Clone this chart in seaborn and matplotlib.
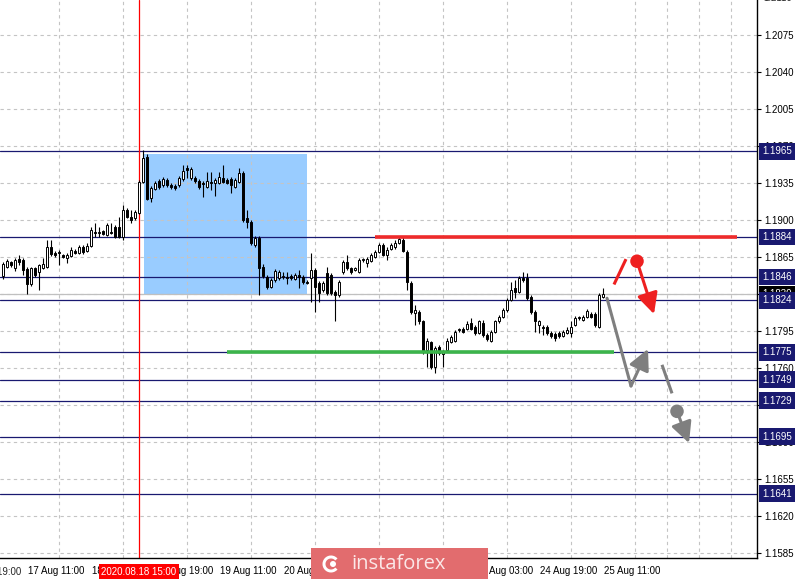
import numpy as np
import seaborn as sns
import matplotlib.pyplot as plt
from matplotlib.patches import Rectangle, Circle, Wedge
from matplotlib.ticker import FixedLocator
from matplotlib.transforms import blended_transform_factory, ScaledTranslation

# EURUSD H1 bars, 17 Aug 05:00 .. 25 Aug 11:00 2020 (bar 6 = 17 Aug 11:00)
bar_open = [
    1.1847, 1.1856, 1.1860, 1.1855, 1.1863, 1.1862, 1.1854, 1.1839, 1.1855, 1.1851,
    1.1855, 1.1856, 1.1874, 1.1869, 1.1870, 1.1867, 1.1864, 1.1866, 1.1871, 1.1869,
    1.1874, 1.1871, 1.1875, 1.1889, 1.1888, 1.1890, 1.1886, 1.1889, 1.1893, 1.1893,
    1.1884, 1.1909, 1.1903, 1.1902, 1.1907, 1.1936, 1.1960, 1.1921, 1.1929, 1.1937,
    1.1933, 1.1938, 1.1933, 1.1932, 1.1933, 1.1939, 1.1949, 1.1940, 1.1940, 1.1937,
    1.1935, 1.1931, 1.1936, 1.1935, 1.1935, 1.1940, 1.1938, 1.1939, 1.1931, 1.1936,
    1.1944, 1.1902, 1.1898, 1.1876, 1.1883, 1.1856, 1.1846, 1.1837, 1.1843, 1.1845,
    1.1846, 1.1846, 1.1847, 1.1844, 1.1848, 1.1846, 1.1841, 1.1845, 1.1853, 1.1840,
    1.1834, 1.1850, 1.1848, 1.1832, 1.1829, 1.1851, 1.1860, 1.1855, 1.1853, 1.1851,
    1.1862, 1.1859, 1.1861, 1.1865, 1.1870, 1.1876, 1.1867, 1.1873, 1.1874, 1.1878,
    1.1881, 1.1870, 1.1840, 1.1812, 1.1813, 1.1804, 1.1777, 1.1785, 1.1761, 1.1780,
    1.1773, 1.1777, 1.1785, 1.1786, 1.1796, 1.1797, 1.1797, 1.1803, 1.1799, 1.1793,
    1.1803, 1.1791, 1.1786, 1.1794, 1.1804, 1.1808, 1.1815, 1.1824, 1.1836, 1.1832,
    1.1845, 1.1845, 1.1827, 1.1813, 1.1801, 1.1799, 1.1799, 1.1793, 1.1792, 1.1793,
    1.1790, 1.1793, 1.1793, 1.1801, 1.1807, 1.1805, 1.1808, 1.1811, 1.1811, 1.1799,
    1.1827,
]
bar_high = [
    1.1860, 1.1863, 1.1861, 1.1864, 1.1867, 1.1864, 1.1856, 1.1856, 1.1856, 1.1858,
    1.1864, 1.1881, 1.1881, 1.1871, 1.1872, 1.1868, 1.1869, 1.1874, 1.1873, 1.1876,
    1.1876, 1.1878, 1.1893, 1.1897, 1.1893, 1.1891, 1.1897, 1.1897, 1.1895, 1.1903,
    1.1914, 1.1911, 1.1909, 1.1909, 1.1938, 1.1966, 1.1962, 1.1932, 1.1937, 1.1939,
    1.1941, 1.1940, 1.1935, 1.1934, 1.1942, 1.1952, 1.1952, 1.1950, 1.1942, 1.1939,
    1.1937, 1.1945, 1.1945, 1.1940, 1.1945, 1.1952, 1.1940, 1.1941, 1.1940, 1.1949,
    1.1946, 1.1909, 1.1900, 1.1885, 1.1885, 1.1858, 1.1848, 1.1845, 1.1854, 1.1853,
    1.1851, 1.1851, 1.1849, 1.1850, 1.1853, 1.1848, 1.1843, 1.1869, 1.1855, 1.1842,
    1.1842, 1.1856, 1.1850, 1.1834, 1.1843, 1.1862, 1.1867, 1.1856, 1.1856, 1.1864,
    1.1864, 1.1865, 1.1869, 1.1872, 1.1878, 1.1878, 1.1874, 1.1878, 1.1881, 1.1884,
    1.1884, 1.1872, 1.1842, 1.1820, 1.1815, 1.1805, 1.1788, 1.1786, 1.1781, 1.1782,
    1.1777, 1.1788, 1.1791, 1.1796, 1.1798, 1.1799, 1.1804, 1.1807, 1.1801, 1.1805,
    1.1805, 1.1793, 1.1796, 1.1805, 1.1810, 1.1817, 1.1826, 1.1841, 1.1843, 1.1847,
    1.1851, 1.1850, 1.1829, 1.1815, 1.1805, 1.1801, 1.1801, 1.1795, 1.1794, 1.1795,
    1.1796, 1.1799, 1.1804, 1.1809, 1.1809, 1.1810, 1.1816, 1.1813, 1.1813, 1.1831,
    1.1836,
]
bar_low = [
    1.1844, 1.1855, 1.1856, 1.1852, 1.1857, 1.1848, 1.1830, 1.1838, 1.1846, 1.1834,
    1.1854, 1.1855, 1.1866, 1.1865, 1.1857, 1.1864, 1.1859, 1.1865, 1.1868, 1.1868,
    1.1868, 1.1870, 1.1874, 1.1884, 1.1884, 1.1886, 1.1885, 1.1887, 1.1883, 1.1883,
    1.1881, 1.1902, 1.1897, 1.1900, 1.1906, 1.1935, 1.1919, 1.1917, 1.1928, 1.1929,
    1.1931, 1.1931, 1.1929, 1.1928, 1.1931, 1.1937, 1.1940, 1.1938, 1.1935, 1.1929,
    1.1922, 1.1930, 1.1928, 1.1923, 1.1934, 1.1935, 1.1934, 1.1926, 1.1930, 1.1935,
    1.1898, 1.1892, 1.1876, 1.1874, 1.1829, 1.1845, 1.1835, 1.1836, 1.1841, 1.1843,
    1.1844, 1.1839, 1.1843, 1.1843, 1.1836, 1.1839, 1.1839, 1.1822, 1.1813, 1.1822,
    1.1832, 1.1829, 1.1829, 1.1804, 1.1827, 1.1849, 1.1853, 1.1849, 1.1852, 1.1850,
    1.1860, 1.1856, 1.1860, 1.1864, 1.1869, 1.1866, 1.1862, 1.1872, 1.1873, 1.1877,
    1.1870, 1.1834, 1.1811, 1.1801, 1.1802, 1.1773, 1.1761, 1.1759, 1.1755, 1.1772,
    1.1761, 1.1775, 1.1784, 1.1785, 1.1794, 1.1793, 1.1796, 1.1796, 1.1791, 1.1792,
    1.1789, 1.1786, 1.1785, 1.1793, 1.1803, 1.1807, 1.1813, 1.1823, 1.1826, 1.1831,
    1.1841, 1.1824, 1.1811, 1.1794, 1.1793, 1.1791, 1.1791, 1.1788, 1.1786, 1.1788,
    1.1789, 1.1792, 1.1789, 1.1800, 1.1805, 1.1804, 1.1807, 1.1807, 1.1799, 1.1798,
    1.1826,
]
bar_close = [
    1.1858, 1.1861, 1.1857, 1.1862, 1.1860, 1.1853, 1.1839, 1.1855, 1.1848, 1.1857,
    1.1858, 1.1874, 1.1868, 1.1867, 1.1869, 1.1865, 1.1867, 1.1872, 1.1869, 1.1874,
    1.1870, 1.1875, 1.1891, 1.1888, 1.1889, 1.1887, 1.1895, 1.1888, 1.1884, 1.1884,
    1.1909, 1.1903, 1.1900, 1.1908, 1.1936, 1.1959, 1.1920, 1.1930, 1.1935, 1.1931,
    1.1939, 1.1933, 1.1931, 1.1930, 1.1940, 1.1946, 1.1947, 1.1948, 1.1937, 1.1931,
    1.1934, 1.1937, 1.1935, 1.1938, 1.1941, 1.1936, 1.1935, 1.1933, 1.1938, 1.1944,
    1.1900, 1.1898, 1.1878, 1.1883, 1.1855, 1.1847, 1.1837, 1.1843, 1.1852, 1.1851,
    1.1847, 1.1845, 1.1845, 1.1848, 1.1846, 1.1841, 1.1840, 1.1853, 1.1837, 1.1831,
    1.1840, 1.1831, 1.1831, 1.1829, 1.1841, 1.1860, 1.1855, 1.1851, 1.1855, 1.1862,
    1.1863, 1.1863, 1.1867, 1.1870, 1.1876, 1.1867, 1.1872, 1.1876, 1.1878, 1.1882,
    1.1871, 1.1841, 1.1813, 1.1815, 1.1804, 1.1775, 1.1786, 1.1761, 1.1779, 1.1774,
    1.1775, 1.1786, 1.1789, 1.1794, 1.1797, 1.1794, 1.1802, 1.1797, 1.1793, 1.1804,
    1.1791, 1.1787, 1.1794, 1.1804, 1.1808, 1.1815, 1.1824, 1.1834, 1.1832, 1.1845,
    1.1843, 1.1826, 1.1813, 1.1804, 1.1804, 1.1798, 1.1793, 1.1790, 1.1788, 1.1790,
    1.1794, 1.1796, 1.1799, 1.1807, 1.1808, 1.1808, 1.1814, 1.1808, 1.1801, 1.1829,
    1.1830,
]

price_ticks = ["1.2110", "1.2075", "1.2040", "1.2005", "1.1970", "1.1935", "1.1900", "1.1865",
               "1.1830", "1.1795", "1.1760", "1.1725", "1.1690", "1.1655", "1.1620", "1.1585"]
time_tick_bars = [6, 22, 38, 54, 70, 86, 102, 118, 134, 150]
time_tick_labels = ["17 Aug 11:00", "18 Aug 03:00", "18 Aug 19:00", "19 Aug 11:00",
                    "20 Aug 03:00", "20 Aug 19:00", "21 Aug 11:00", "24 Aug 03:00",
                    "24 Aug 19:00", "25 Aug 11:00"]
first_hidden_label = "14 Aug 19:00"

level_prices = [1.1965, 1.1884, 1.1846, 1.1824, 1.1775, 1.1749, 1.1729, 1.1695, 1.1641]
bid_price = 1.1830
marked_bar = 34                      # 2020.08.18 15:00
marked_label = "2020.08.18 15:00"

# range box and the two key levels
box_bars = (35.25, 75.9)
box_prices = (1.1829, 1.1962)
resistance = (1.1884, 93, 183.5)
support = (1.1775, 56, 152.75)

# forecast sketch
red_stroke = ([152.75, 155.75], [1.1839, 1.1863])
red_dot = (158.5, 1.1861)
red_tip = (162.75, 1.1811)
gray_path = ([151, 157], [1.1826, 1.1743])
gray_tip = (161.25, 1.1778)
gray_stroke = ([164.75, 167.25], [1.1763, 1.1736])
gray_dot = (168.5, 1.1719)
gray_dot_tip = (171.5, 1.1689)

NAVY = "#191970"
GRID = "#c4c4c4"
W, H = 798, 579

sns.set_theme(style="white")
plt.rcParams["font.family"] = ["Liberation Sans", "DejaVu Sans"]

fig = plt.figure(figsize=(W / 100, H / 100), dpi=100)
ax = fig.add_axes([0, 21 / H, 757 / W, 558 / H])
ax.set_xlim(-0.75, 188.5)
ax.set_ylim(1.158025, 1.210812)

# grid
ax.set_axisbelow(True)
ax.yaxis.set_major_locator(FixedLocator([float(t) for t in price_ticks]))
ax.xaxis.set_major_locator(FixedLocator(time_tick_bars))
ax.xaxis.set_minor_locator(FixedLocator(np.arange(-2, 189, 8)))
ax.grid(True, which="both", color=GRID, linestyle=(0, (3, 3)), linewidth=0.8)
ax.grid(False, which="major", axis="x")

ax.add_patch(Rectangle((box_bars[0], box_prices[0]), box_bars[1] - box_bars[0],
                       box_prices[1] - box_prices[0], facecolor="#99ccff",
                       edgecolor="none", zorder=0.2))

# horizontal levels
for p in level_prices:
    ax.axhline(p, color=NAVY, lw=0.9, zorder=1.5)
ax.axhline(bid_price, color="#c0c0c0", lw=0.9, zorder=1.4)
ax.axvline(marked_bar, color="#ff0000", lw=0.9, zorder=1.5)

# candles
x = np.arange(len(bar_open))
o = np.array(bar_open)
c = np.array(bar_close)
ax.vlines(x, bar_low, bar_high, color="black", lw=0.8, zorder=2)
up = c >= o
ax.bar(x[up], (c - o)[up], bottom=o[up], width=0.55, color="white",
       edgecolor="black", linewidth=0.7, zorder=3)
ax.bar(x[~up], (c - o)[~up], bottom=o[~up], width=0.55, color="black",
       edgecolor="black", linewidth=0.7, zorder=3)

ax.hlines(resistance[0], resistance[1], resistance[2], color="#ee2b2b", lw=2.6, zorder=4)
ax.hlines(support[0], support[1], support[2], color="#3cb44b", lw=2.6, zorder=4)

# forecast arrows
head = "-|>,head_length=0.9,head_width=0.45"
ax.plot(*red_stroke, color="#ee2020", lw=2.2, solid_capstyle="butt", zorder=5)
ax.annotate("", xy=red_tip, xytext=red_dot, zorder=5,
            arrowprops=dict(arrowstyle=head, color="#ee2020", lw=2.2,
                            shrinkA=0, shrinkB=0, mutation_scale=14))
sns.lineplot(x=gray_path[0], y=gray_path[1], ax=ax, color="#7f7f7f", lw=2.2, sort=False, zorder=5)
ax.annotate("", xy=gray_tip, xytext=(gray_path[0][1], gray_path[1][1]), zorder=5,
            arrowprops=dict(arrowstyle=head, color="#7f7f7f", lw=2.2,
                            shrinkA=0, shrinkB=0, mutation_scale=14))
ax.plot(*gray_stroke, color="#7f7f7f", lw=2.2, solid_capstyle="butt", zorder=5)
ax.annotate("", xy=gray_dot_tip, xytext=gray_dot, zorder=5,
            arrowprops=dict(arrowstyle=head, color="#7f7f7f", lw=2.2,
                            shrinkA=0, shrinkB=0, mutation_scale=14))
sns.scatterplot(x=[red_dot[0], gray_dot[0]], y=[red_dot[1], gray_dot[1]], ax=ax,
                color=["#ee2020", "#7f7f7f"], s=95, edgecolor="none", zorder=6)

# axes frame and ticks
for side in ("left", "top"):
    ax.spines[side].set_visible(False)
for side in ("right", "bottom"):
    ax.spines[side].set_color("black")
    ax.spines[side].set_linewidth(1.0)
ax.yaxis.tick_right()
ax.set_yticklabels(price_ticks)
ax.set_xticklabels(time_tick_labels)
ax.tick_params(axis="y", which="major", length=3, width=0.8, color="black",
               labelsize=7, pad=2, labelcolor="black")
ax.tick_params(axis="x", which="major", length=3, width=0.8, color="black",
               labelsize=7, pad=2.5, labelcolor="black")
ax.tick_params(axis="x", which="minor", length=0)
shift = ScaledTranslation(1 / 100, 0, fig.dpi_scale_trans)
for lbl in ax.get_xticklabels():
    lbl.set_ha("left")
    lbl.set_transform(lbl.get_transform() + shift)

tr_x = blended_transform_factory(ax.transData, ax.transAxes)
ax.text(-10 + 0.3, -0.0165, first_hidden_label, transform=tr_x, fontsize=7,
        ha="left", va="top", clip_on=False)

# price scale: top label sits half outside the canvas
tr_y = blended_transform_factory(ax.transAxes, ax.transData)
ax.text(1.0 + 6 / 757, float(price_ticks[0]), price_ticks[0], transform=tr_y, fontsize=7,
        ha="left", va="center", clip_on=False)

# price boxes on the right scale
ax.text(1.0 + 5 / 757, bid_price, f"{bid_price:.4f}", transform=tr_y, fontsize=7,
        color="white", ha="left", va="center", zorder=7,
        bbox=dict(boxstyle="square,pad=0.35", fc="black", ec="none"))
for p in level_prices:
    ax.text(1.0 + 5 / 757, p, f"{p:.4f}", transform=tr_y, fontsize=7, color="white",
            ha="left", va="center", zorder=8,
            bbox=dict(boxstyle="square,pad=0.35", fc=NAVY, ec="none"))

# marked time on the time scale
ax.text(marked_bar, -0.0155, marked_label, transform=tr_x, fontsize=7, color="white",
        ha="center", va="top", zorder=8,
        bbox=dict(boxstyle="square,pad=0.25", fc="#ff0000", ec="none"))

# watermark
fig.add_artist(Rectangle((311 / W, 0), 177 / W, 31 / H, transform=fig.transFigure,
                         facecolor="#e26c6e", edgecolor="none", zorder=10))
fig.text(399 / W, 15 / H, "instaforex", fontsize=14.5, color="#fbe8e8",
         family=["Open Sans", "DejaVu Sans"], ha="center", va="center", zorder=11)
# small round logo mark left of the word
fig.add_artist(Circle((331 / W, 15 / H), 0.0, transform=fig.transFigure))
logo_tr = fig.dpi_scale_trans
fig.add_artist(Wedge((3.31, 0.15), 0.085, 40, 320, width=0.03, transform=logo_tr,
                     facecolor="white", edgecolor="none", zorder=11))
fig.add_artist(Circle((3.33, 0.15), 0.03, transform=logo_tr,
                      facecolor="white", edgecolor="none", zorder=11))

fig.savefig("out.png", dpi=100)
